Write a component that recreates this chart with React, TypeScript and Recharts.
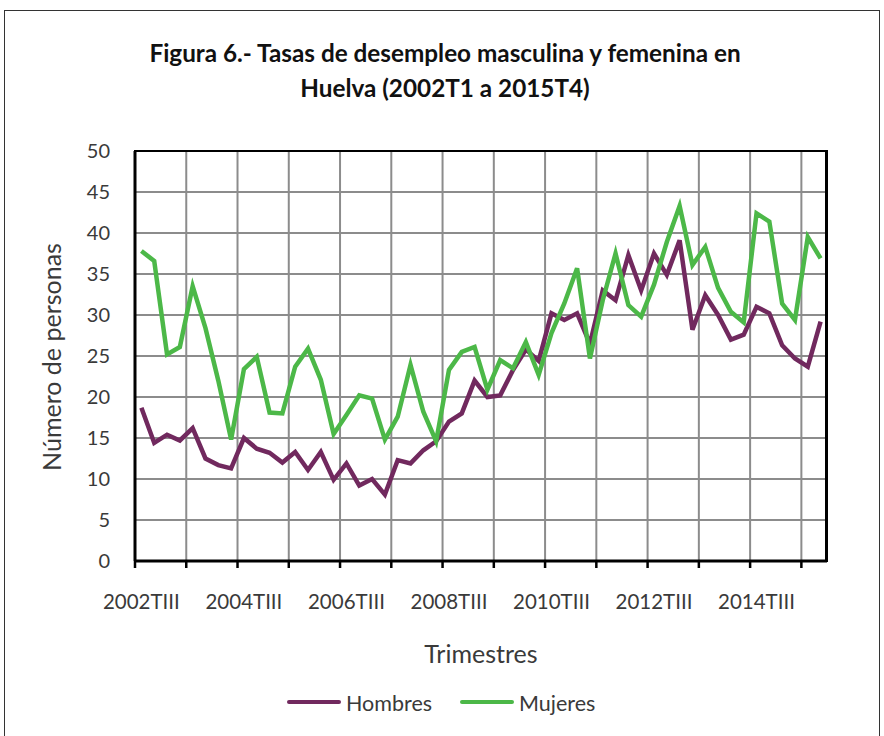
import { LineChart, Line, XAxis, YAxis, CartesianGrid } from 'recharts'

// quarters from 2002TIII to 2015TIV
const quarters = ['TI', 'TII', 'TIII', 'TIV']
const categories: string[] = []
for (let y = 2002; y <= 2015; y++) {
  for (let q = 0; q < 4; q++) {
    if (y === 2002 && q < 2) continue
    categories.push(`${y}${quarters[q]}`)
  }
}

const hombres = [
  18.7, 14.4, 15.4, 14.7, 16.2, 12.5, 11.7, 11.3, 15.0, 13.7,
  13.2, 12.0, 13.3, 11.1, 13.3, 9.9, 11.9, 9.2, 10.0, 8.1,
  12.3, 11.9, 13.5, 14.6, 17.0, 18.0, 22.0, 20.0, 20.2, 23.3,
  25.8, 24.4, 30.2, 29.4, 30.2, 26.5, 33.0, 31.8, 37.3, 33.0,
  37.5, 34.9, 39.1, 28.2, 32.4, 30.0, 27.0, 27.6, 31.0, 30.2,
  26.3, 24.7, 23.7, 29.2,
]

const mujeres = [
  37.8, 36.6, 25.2, 26.1, 33.5, 28.4, 22.0, 14.8, 23.4, 24.9,
  18.1, 18.0, 23.7, 25.9, 22.1, 15.5, 17.8, 20.2, 19.8, 14.8,
  17.6, 23.9, 18.2, 14.6, 23.3, 25.5, 26.1, 20.9, 24.5, 23.5,
  26.7, 22.7, 27.8, 31.4, 35.7, 24.7, 31.8, 37.5, 31.2, 29.8,
  33.7, 38.9, 43.3, 36.1, 38.3, 33.3, 30.4, 29.1, 42.4, 41.4,
  31.4, 29.4, 39.5, 36.9,
]

const yTicks = [0, 5, 10, 15, 20, 25, 30, 35, 40, 45, 50]
const labelTicks = [0, 8, 16, 24, 32, 40, 48]
// category boundaries every 4 quarters (gridlines + tick marks)
const gridTicks = [-0.5, 3.5, 7.5, 11.5, 15.5, 19.5, 23.5, 27.5, 31.5, 35.5, 39.5, 43.5, 47.5, 51.5]
const allTicks = [...gridTicks, ...labelTicks].sort((a, b) => a - b)

const data = categories.map((cat, i) => ({ i, cat, hombres: hombres[i], mujeres: mujeres[i] }))

const PURPLE = '#71295e'
const GREEN = '#4cb848'
const FONT = 'Lato, "Open Sans", sans-serif'
const TEXT = '#3a3a3a'

function XTick(props: any) {
  const { x, y, payload } = props
  const v = payload.value as number
  if (!Number.isInteger(v)) {
    return <line x1={x} x2={x} y1={y} y2={y + 7} stroke="#000" strokeWidth={2.5} />
  }
  return (
    <text x={x} y={y + 48} textAnchor="middle" fill={TEXT} fontSize={20.5} fontFamily={FONT}>
      {categories[v]}
    </text>
  )
}

const verticalGrid = ({ xAxis }: any) => {
  const s = xAxis.scale
  return gridTicks.map((t) => (typeof s === 'function' ? s(t) : s.map(t)))
}

export default function App() {
  return (
    <div style={{ position: 'absolute', left: 0, top: 0, width: 884, height: 736, background: '#fff', fontFamily: FONT, overflow: 'hidden' }}>
      <div style={{ position: 'absolute', left: 4, top: 10, width: 874, height: 740, border: '1.5px solid #333' }} />

      <div style={{ position: 'absolute', left: 0, width: 890, top: 35, textAlign: 'center', fontWeight: 700, fontSize: 24.3, lineHeight: '35px', color: '#111' }}>
        Figura 6.- Tasas de desempleo masculina y femenina en
        <br />
        Huelva (2002T1 a 2015T4)
      </div>

      <div style={{ position: 'absolute', left: 0, top: 0 }}>
        <LineChart width={884} height={736} data={data} margin={{ top: 151, right: 57, bottom: 115, left: 75 }}>
          <CartesianGrid stroke="#8c8c8c" strokeWidth={2} verticalCoordinatesGenerator={verticalGrid} />
          <XAxis
            dataKey="i"
            type="number"
            domain={[-0.5, 53.5]}
            ticks={allTicks}
            interval={0}
            tick={<XTick />}
            tickLine={false}
            tickSize={0}
            tickMargin={0}
            axisLine={{ stroke: '#000', strokeWidth: 3 }}
            height={60}
            allowDataOverflow
          />
          <YAxis
            domain={[0, 50]}
            ticks={yTicks}
            width={60}
            tickLine={false}
            tickSize={0}
            tickMargin={25}
            axisLine={{ stroke: '#000', strokeWidth: 3 }}
            tick={{ fill: TEXT, fontSize: 20, fontFamily: FONT }}
          />
          <Line dataKey="hombres" stroke={PURPLE} strokeWidth={4.5} dot={false} isAnimationActive={false} strokeLinejoin="miter" />
          <Line dataKey="mujeres" stroke={GREEN} strokeWidth={4.5} dot={false} isAnimationActive={false} strokeLinejoin="miter" />
        </LineChart>
      </div>

      {/* right and top border of the plot area */}
      <div style={{ position: 'absolute', left: 134, top: 149.5, width: 691, height: 410, borderTop: '2.5px solid #000', borderRight: '3px solid #000', pointerEvents: 'none' }} />

      <div style={{ position: 'absolute', left: 51, top: 357, transform: 'translate(-50%, -50%) rotate(-90deg)', whiteSpace: 'nowrap', fontSize: 25, color: TEXT }}>
        Número de personas
      </div>

      <div style={{ position: 'absolute', left: 481, top: 653, transform: 'translate(-50%, -50%)', whiteSpace: 'nowrap', fontSize: 25, color: TEXT }}>
        Trimestres
      </div>

      <div style={{ position: 'absolute', left: 287, top: 700, width: 54, height: 4, background: PURPLE, borderRadius: 2 }} />
      <div style={{ position: 'absolute', left: 346, top: 703, transform: 'translateY(-50%)', fontSize: 21.5, color: TEXT }}>Hombres</div>
      <div style={{ position: 'absolute', left: 460, top: 700, width: 54, height: 4, background: GREEN, borderRadius: 2 }} />
      <div style={{ position: 'absolute', left: 519, top: 703, transform: 'translateY(-50%)', fontSize: 21.5, color: TEXT }}>Mujeres</div>
    </div>
  )
}
